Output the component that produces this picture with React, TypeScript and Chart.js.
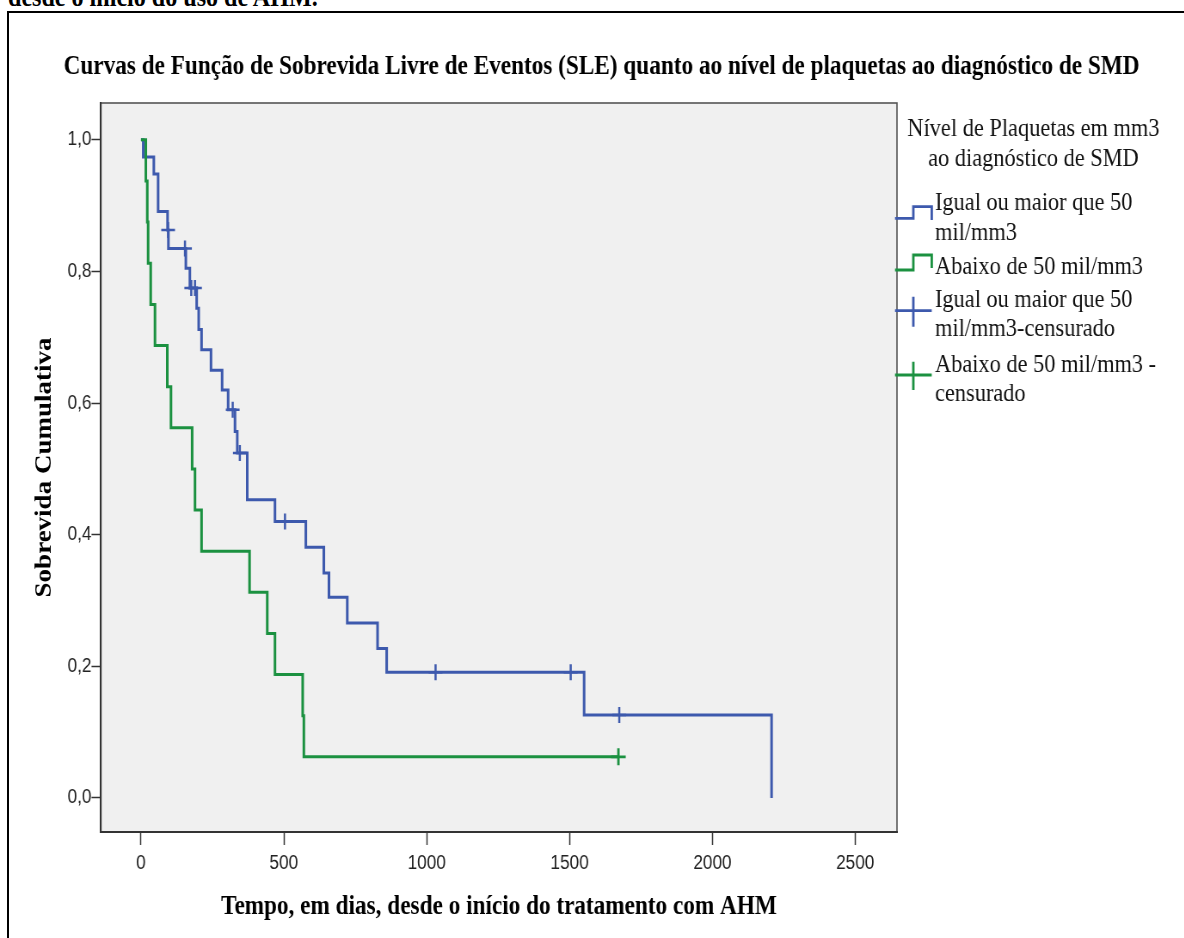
import React, { useEffect, useRef } from 'react';
import { Chart, registerables, layouts } from 'chart.js';

Chart.register(...registerables);

// ---------- data ----------
const CHART_TITLE =
  'Curvas de Função de Sobrevida Livre de Eventos (SLE) quanto ao nível de plaquetas ao diagnóstico de SMD';
const X_TITLE = 'Tempo, em dias, desde o início do tratamento com AHM';
const Y_TITLE = 'Sobrevida Cumulativa';
const PAGE_TEXT = 'desde o início do uso de AHM.';

const LEGEND_TITLE = ['Nível de Plaquetas em mm3', 'ao diagnóstico de SMD'];
const SERIES_NAMES = [
  ['Igual ou maior que 50', 'mil/mm3'],
  ['Abaixo de 50 mil/mm3'],
  ['Igual ou maior que 50', 'mil/mm3-censurado'],
  ['Abaixo de 50 mil/mm3 -', 'censurado'],
];

// Kaplan-Meier steps: time (days) of each event and survival after it
const highTimes = [0, 8, 45, 60, 93, 96, 157, 171, 195, 202, 212, 245, 284, 305, 329, 337, 372, 469, 577, 640, 658, 722, 828, 860, 1551, 2207];
const highSurv = [1.0, 0.974, 0.948, 0.891, 0.863, 0.835, 0.805, 0.775, 0.744, 0.712, 0.681, 0.65, 0.62, 0.59, 0.557, 0.524, 0.453, 0.42, 0.381, 0.342, 0.305, 0.266, 0.227, 0.191, 0.126, 0.0];
const highCensTimes = [95, 154, 176, 189, 321, 346, 504, 1031, 1504, 1674];
const highCensSurv = [0.863, 0.835, 0.775, 0.775, 0.59, 0.524, 0.42, 0.191, 0.191, 0.126];

const lowTimes = [0, 17, 22, 25, 34, 49, 92, 105, 179, 189, 212, 380, 442, 469, 566, 570, 1671];
const lowSurv = [1.0, 0.9375, 0.875, 0.8125, 0.75, 0.6875, 0.625, 0.5625, 0.5, 0.4375, 0.375, 0.3125, 0.25, 0.1875, 0.125, 0.0625, 0.0625];
const lowCensTimes = [1671];
const lowCensSurv = [0.0625];

const X_MIN = -140;
const X_MAX = 2646;
const X_TICKS = [0, 500, 1000, 1500, 2000, 2500];
const Y_MIN = -0.0517;
const Y_MAX = 1.056;
const Y_TICKS = [0, 0.2, 0.4, 0.6, 0.8, 1.0];

// ---------- style ----------
const SX = 0.86; // horizontal compression of the whole picture
const CW = 1377;
const CH = 938;
const BLUE = '#3d59ad';
const GREEN = '#1b9140';
const SERIF = '"Liberation Serif", "Times New Roman", serif';
const SANS = '"Liberation Sans", Arial, sans-serif';

const toPts = (xs: number[], ys: number[]) => xs.map((x, i) => ({ x, y: ys[i] }));

const plotBg = {
  id: 'plotBg',
  beforeDraw(chart: any) {
    const { ctx, chartArea } = chart;
    const { left, top, width, height } = chartArea;
    ctx.save();
    ctx.fillStyle = '#f0f0f0';
    ctx.fillRect(left, top, width, height);
    ctx.strokeStyle = '#555';
    ctx.lineWidth = 1.6;
    ctx.strokeRect(left, top, width, height);
    ctx.restore();
  },
};

function makeLegendBox(chart: any) {
  const box: any = {
    position: 'right',
    weight: 0,
    fullSize: false,
    options: {},
    left: 0, top: 0, right: 0, bottom: 0, width: 0, height: 0,
    isHorizontal() { return false; },
    update(_mw: number, mh: number) {
      this.width = 334;
      this.height = mh;
    },
    draw() {
      const ctx = chart.ctx;
      const L = this.left;
      const iconL = L - 2.3;
      const iconM = L + 19;
      const iconR = L + 40.4;
      const textX = L + 44.2;
      ctx.save();
      ctx.fillStyle = '#111';
      ctx.font = `26px ${SERIF}`;
      ctx.textBaseline = 'alphabetic';
      ctx.textAlign = 'center';
      ctx.fillText(LEGEND_TITLE[0], L + 158.7, 136);
      ctx.fillText(LEGEND_TITLE[1], L + 158.7, 166);
      ctx.textAlign = 'left';
      const lines: [number, string][] = [
        [210, SERIES_NAMES[0][0]], [239.5, SERIES_NAMES[0][1]],
        [273.5, SERIES_NAMES[1][0]],
        [306.5, SERIES_NAMES[2][0]], [335.5, SERIES_NAMES[2][1]],
        [371.5, SERIES_NAMES[3][0]], [400.5, SERIES_NAMES[3][1]],
      ];
      lines.forEach(([y, t]) => ctx.fillText(t, textX, y));
      ctx.lineWidth = 2.8;
      ctx.lineCap = 'butt';
      ctx.lineJoin = 'miter';
      // step icons
      ctx.strokeStyle = BLUE;
      ctx.beginPath();
      ctx.moveTo(iconL, 218.3); ctx.lineTo(iconM, 218.3); ctx.lineTo(iconM, 206.7);
      ctx.lineTo(iconR, 206.7); ctx.lineTo(iconR, 220);
      ctx.stroke();
      ctx.strokeStyle = GREEN;
      ctx.beginPath();
      ctx.moveTo(iconL, 270); ctx.lineTo(iconM, 270); ctx.lineTo(iconM, 255);
      ctx.lineTo(iconR, 255); ctx.lineTo(iconR, 268);
      ctx.stroke();
      // cross icons
      ctx.strokeStyle = BLUE;
      ctx.beginPath();
      ctx.moveTo(iconL, 310.7); ctx.lineTo(iconR, 310.7);
      ctx.moveTo(iconM, 296.7); ctx.lineTo(iconM, 326.7);
      ctx.stroke();
      ctx.strokeStyle = GREEN;
      ctx.beginPath();
      ctx.moveTo(iconL, 375); ctx.lineTo(iconR, 375);
      ctx.moveTo(iconM, 361.7); ctx.lineTo(iconM, 390);
      ctx.stroke();
      ctx.restore();
    },
  };
  return box;
}

const legendBoxPlugin = {
  id: 'legendBox',
  beforeInit(chart: any) {
    layouts.addBox(chart, makeLegendBox(chart));
  },
};

export default function App() {
  const ref = useRef<HTMLCanvasElement>(null);

  useEffect(() => {
    const canvas = ref.current;
    if (!canvas) return;
    const titleFont = { family: SERIF, size: 27, weight: 'bold' as const, lineHeight: 1.2 };
    const tickFont = { family: SANS, size: 20 };
    const chart = new Chart(canvas, {
      type: 'line',
      data: {
        datasets: [
          {
            label: SERIES_NAMES[2].join(' '),
            data: toPts(highCensTimes, highCensSurv),
            showLine: false,
            pointStyle: 'cross',
            pointRadius: 8,
            pointBorderWidth: 2.5,
            pointBorderColor: BLUE,
            borderColor: BLUE,
            order: 0,
          },
          {
            label: SERIES_NAMES[3].join(' '),
            data: toPts(lowCensTimes, lowCensSurv),
            showLine: false,
            pointStyle: 'cross',
            pointRadius: 8.5,
            pointBorderWidth: 2.8,
            pointBorderColor: GREEN,
            borderColor: GREEN,
            order: 0,
          },
          {
            label: SERIES_NAMES[1].join(' '),
            data: toPts(lowTimes, lowSurv),
            borderColor: GREEN,
            borderWidth: 3,
            pointRadius: 0,
            stepped: 'before',
            fill: false,
            borderCapStyle: 'butt',
            borderJoinStyle: 'miter',
            order: 1,
          },
          {
            label: SERIES_NAMES[0].join(' '),
            data: toPts(highTimes, highSurv),
            borderColor: BLUE,
            borderWidth: 3,
            pointRadius: 0,
            stepped: 'before',
            fill: false,
            borderCapStyle: 'butt',
            borderJoinStyle: 'miter',
            order: 2,
          },
        ],
      },
      options: {
        responsive: false,
        animation: false,
        events: [],
        layout: { padding: { left: 22, top: 0, right: 0, bottom: 0 } },
        plugins: {
          legend: { display: false },
          tooltip: { enabled: false },
          title: {
            display: true,
            text: CHART_TITLE,
            color: '#000',
            font: titleFont,
            padding: { top: 50.6, bottom: 20 },
          },
        },
        scales: {
          x: {
            type: 'linear',
            min: X_MIN,
            max: X_MAX,
            afterFit: (s: any) => { s.height = 106; },
            afterBuildTicks: (s: any) => { s.ticks = X_TICKS.map((value) => ({ value })); },
            ticks: {
              maxRotation: 0,
              autoSkip: false,
              color: '#222',
              font: tickFont,
              padding: 6,
              callback: (v: any) => String(v),
            },
            grid: { drawOnChartArea: false, tickLength: 13, tickColor: '#333', tickWidth: 1.5 },
            border: { color: '#333', width: 2 },
            title: { display: true, text: X_TITLE, color: '#000', font: titleFont, padding: { top: 0, bottom: 14.8 } },
          },
          y: {
            type: 'linear',
            min: Y_MIN,
            max: Y_MAX,
            afterFit: (s: any) => { s.width = 95.4; },
            afterBuildTicks: (s: any) => { s.ticks = Y_TICKS.map((value) => ({ value })); },
            ticks: {
              autoSkip: false,
              color: '#222',
              font: tickFont,
              padding: 0,
              callback: (v: any) => Number(v).toFixed(1).replace('.', ','),
            },
            grid: { drawOnChartArea: false, tickLength: 11, tickColor: '#333', tickWidth: 1.5 },
            border: { color: '#333', width: 2 },
            title: { display: true, text: Y_TITLE, color: '#000', font: titleFont, padding: { top: 14.1, bottom: 0 } },
          },
        },
      } as any,
      plugins: [plotBg, legendBoxPlugin],
    });
    return () => chart.destroy();
  }, []);

  return (
    <div style={{ position: 'absolute', left: 0, top: 0, width: 1184, height: 938, overflow: 'hidden', background: '#fff' }}>
      <div
        style={{
          position: 'absolute', left: 8, top: -17.5, whiteSpace: 'nowrap',
          font: `bold 28px ${SERIF}`, lineHeight: '28px', color: '#000',
          transform: `scaleX(${SX})`, transformOrigin: '0 0',
        }}
      >
        {PAGE_TEXT}
      </div>
      <div
        style={{
          position: 'absolute', left: 7, top: 11, width: 1300, height: 1000,
          borderLeft: '2px solid #000', borderTop: '2px solid #000',
        }}
      />
      <div style={{ position: 'absolute', left: 0, top: 0, width: CW, height: CH, transform: `scaleX(${SX})`, transformOrigin: '0 0' }}>
        <canvas ref={ref} width={CW} height={CH} style={{ display: 'block' }} />
      </div>
    </div>
  );
}
